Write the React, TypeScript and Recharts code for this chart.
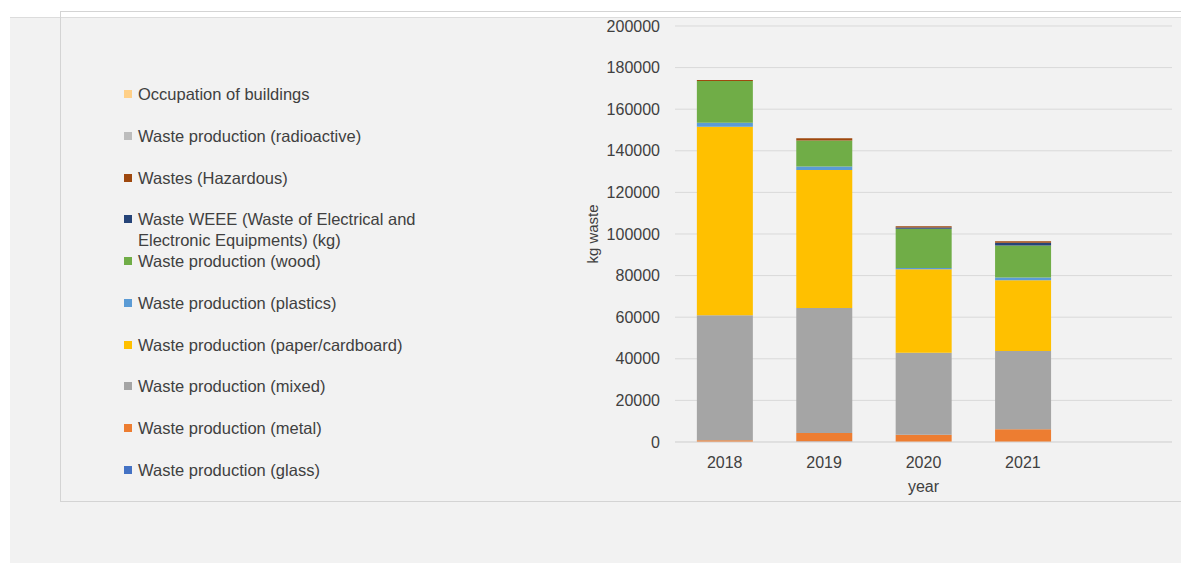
import React from 'react'
import { BarChart, Bar, XAxis, YAxis, CartesianGrid } from 'recharts'

const years = ['2018', '2019', '2020', '2021']
const glass = [0, 200, 0, 0]
const metal = [800, 4100, 3500, 6100]
const mixed = [60100, 60100, 39400, 37650]
const paper = [90700, 66400, 40100, 34000]
const plastics = [1900, 1600, 700, 1300]
const wood = [20100, 12500, 18800, 15400]
const weee = [0, 0, 600, 1300]
const hazardous = [400, 1100, 600, 800]
const radioactive = [0, 0, 0, 0]
const occupation = [0, 0, 0, 0]
const yTicks = [0, 20000, 40000, 60000, 80000, 100000, 120000, 140000, 160000, 180000, 200000]

// stacking order, bottom first
const series = [
  { key: 'glass', name: 'Waste production (glass)', color: '#4472C4', values: glass },
  { key: 'metal', name: 'Waste production (metal)', color: '#ED7D31', values: metal },
  { key: 'mixed', name: 'Waste production (mixed)', color: '#A5A5A5', values: mixed },
  { key: 'paper', name: 'Waste production (paper/cardboard)', color: '#FFC000', values: paper },
  { key: 'plastics', name: 'Waste production (plastics)', color: '#5B9BD5', values: plastics },
  { key: 'wood', name: 'Waste production (wood)', color: '#70AD47', values: wood },
  { key: 'weee', name: 'Waste WEEE (Waste of Electrical and Electronic Equipments) (kg)', color: '#264478', values: weee },
  { key: 'hazardous', name: 'Wastes (Hazardous)', color: '#9E480E', values: hazardous },
  { key: 'radioactive', name: 'Waste production (radioactive)', color: '#BDBDBD', values: radioactive },
  { key: 'occupation', name: 'Occupation of buildings', color: '#FFD088', values: occupation },
]

const data: Record<string, any>[] = years.map((year, i) => {
  const row: Record<string, any> = { year }
  series.forEach(s => { row[s.key] = s.values[i] })
  return row
})
// empty slot at the right end of the axis
data.push({ year: ' ' })

const font = '"Liberation Sans", Arial, sans-serif'
const textColor = '#404040'

export default function App() {
  const legendItems = [...series].reverse()
  return (
    <div style={{ position: 'absolute', left: 0, top: 0, width: 1181, height: 563, background: '#fff', overflow: 'hidden', fontFamily: font }}>
      <div style={{ position: 'absolute', left: 10, top: 17, width: 1171, height: 546, background: '#f2f2f2', borderTop: '1px solid #dcdcdc' }} />
      <div style={{ position: 'absolute', left: 60, top: 11, width: 1140, height: 489, border: '1px solid #d4d4d4' }} />

      <div style={{ position: 'absolute', left: 0, top: 0 }}>
        <BarChart width={1181} height={563} data={data} margin={{ top: 26, right: 9, bottom: 71, left: 511 }} barCategoryGap="22%">
          <CartesianGrid vertical={false} stroke="#d9d9d9" />
          <XAxis
            dataKey="year"
            height={50}
            tickLine={false}
            tickSize={0}
            tickMargin={15}
            axisLine={{ stroke: '#d9d9d9' }}
            tick={{ fill: textColor, fontSize: 16, fontFamily: font }}
            label={{ value: 'year', position: 'insideBottom', offset: 0, fill: textColor, fontSize: 16, fontFamily: font }}
          />
          <YAxis
            width={164}
            domain={[0, 200000]}
            ticks={yTicks}
            interval={0}
            axisLine={false}
            tickLine={false}
            tickSize={0}
            tickMargin={15}
            tick={{ fill: textColor, fontSize: 16, fontFamily: font }}
            label={{ value: 'kg waste', angle: -90, position: 'center', fill: textColor, fontSize: 15, fontFamily: font }}
          />
          {series.map(s => (
            <Bar key={s.key} dataKey={s.key} name={s.name} stackId="a" fill={s.color} isAnimationActive={false} />
          ))}
        </BarChart>
      </div>

      {legendItems.map((s, i) => (
        <div key={s.key} style={{ position: 'absolute', left: 124, top: 94 + i * 41.75 - 10, width: 310, display: 'flex', alignItems: 'flex-start', fontSize: 16.5, lineHeight: '21px', color: textColor }}>
          <span style={{ display: 'inline-block', width: 8, height: 8, background: s.color, marginTop: 6, marginRight: 6, flexShrink: 0 }} />
          <span style={{ width: 292 }}>{s.name}</span>
        </div>
      ))}
    </div>
  )
}
